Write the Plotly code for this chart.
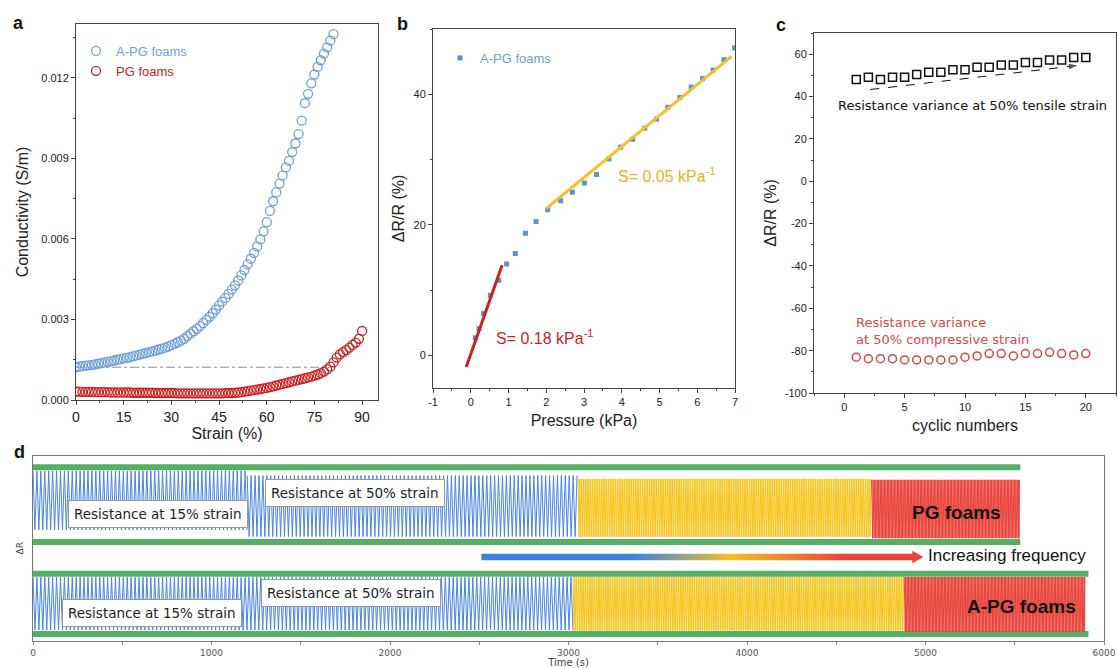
import numpy as np
import plotly.graph_objects as go

W, H = 1118, 668

# ---------------- Panel a: conductivity vs strain ----------------
strain_apg = list(range(0, 82))
cond_apg = [0.00122, 0.00124, 0.00126, 0.00128, 0.00129, 0.00131, 0.00133, 0.00135, 0.00137, 0.00140,
            0.00142, 0.00145, 0.00147, 0.00150, 0.00152, 0.00155, 0.00157, 0.00160, 0.00163, 0.00166,
            0.00169, 0.00172, 0.00175, 0.00178, 0.00181, 0.00184, 0.00188, 0.00191, 0.00195, 0.00199,
            0.00204, 0.00209, 0.00215, 0.00221, 0.00228, 0.00238, 0.00247, 0.00256, 0.00265, 0.00275,
            0.00286, 0.00298, 0.00310, 0.00323, 0.00337, 0.00352, 0.00366, 0.00380, 0.00395, 0.00411,
            0.00427, 0.00445, 0.00464, 0.00484, 0.00505, 0.00526, 0.00548, 0.00572, 0.00598, 0.00628,
            0.00662, 0.00704, 0.00740, 0.00773, 0.00806, 0.00836, 0.00866, 0.00890, 0.00923, 0.00955,
            0.00990, 0.01040, 0.01105, 0.01140, 0.01179, 0.01212, 0.01240, 0.01265, 0.01290, 0.01313,
            0.01338, 0.01362]
strain_pg = list(range(0, 91))
cond_pg = [0.00031, 0.00031, 0.00030, 0.00030, 0.00030, 0.00030, 0.00029, 0.00029, 0.00029, 0.00029,
           0.00029, 0.00028, 0.00028, 0.00028, 0.00028, 0.00028, 0.00028, 0.00028, 0.00027, 0.00027,
           0.00027, 0.00027, 0.00027, 0.00027, 0.00027, 0.00026, 0.00026, 0.00026, 0.00026, 0.00026,
           0.00026, 0.00026, 0.00025, 0.00025, 0.00025, 0.00025, 0.00025, 0.00025, 0.00025, 0.00025,
           0.00025, 0.00025, 0.00025, 0.00025, 0.00025, 0.00025, 0.00025, 0.00026, 0.00026, 0.00026,
           0.00027, 0.00028, 0.00029, 0.00031, 0.00033, 0.00035, 0.00037, 0.00039, 0.00041, 0.00043,
           0.00045, 0.00048, 0.00051, 0.00054, 0.00057, 0.00060, 0.00063, 0.00066, 0.00069, 0.00072,
           0.00075, 0.00078, 0.00081, 0.00084, 0.00087, 0.00091, 0.00095, 0.00100, 0.00106, 0.00114,
           0.00124, 0.00140, 0.00158, 0.00170, 0.00178, 0.00186, 0.00195, 0.00205, 0.00214, 0.00228,
           0.00257]
ref_strain = [0, 80]
ref_cond = [0.00122, 0.00122]
a_xticks = [0, 15, 30, 45, 60, 75, 90]
a_yticks = [0.0, 0.003, 0.006, 0.009, 0.012]

# ---------------- Panel b: dR/R vs pressure ----------------
pressure = [0.12, 0.22, 0.34, 0.52, 0.74, 0.95, 1.18, 1.45, 1.73, 2.04, 2.38, 2.69, 3.01,
            3.33, 3.66, 3.97, 4.29, 4.61, 4.92, 5.22, 5.54, 5.84, 6.14, 6.42, 6.71, 6.99]
dr_pressure = [2.7, 4.1, 6.4, 9.2, 11.5, 14.0, 15.6, 18.7, 20.5, 22.3, 23.7, 25.0, 26.4,
               27.7, 30.1, 31.9, 33.1, 34.8, 36.2, 38.0, 39.5, 41.1, 42.4, 43.7, 45.3, 47.1]
fit_low_x = [-0.12, 0.83]
fit_low_y = [-1.8, 13.8]
fit_high_x = [2.0, 6.91]
fit_high_y = [22.5, 45.8]
b_xticks = [-1, 0, 1, 2, 3, 4, 5, 6, 7]
b_xlabels = ["-1", "0", "1", "2", "3", "4", "5", "6", "7"]
b_yticks = [0, 20, 40]

# ---------------- Panel c: cyclic stability ----------------
cycles = list(range(1, 21))
tensile = [48.0, 49.1, 48.0, 49.1, 49.1, 50.4, 51.5, 51.5, 52.7, 52.7,
           53.8, 53.8, 54.9, 54.9, 56.1, 56.1, 57.2, 57.2, 58.4, 58.4]
compressive = [-83.1, -83.8, -83.8, -83.8, -84.4, -84.4, -84.4, -84.4, -84.4, -83.1,
               -82.5, -81.4, -81.4, -82.5, -81.4, -81.4, -80.8, -81.4, -82.0, -81.4]
trend_x = [2.15, 19.3]
trend_y = [43.3, 54.6]
c_xticks = [0, 5, 10, 15, 20]
c_yticks = [-100, -80, -60, -40, -20, 0, 20, 40, 60]
c_ylabels = ["-100", "-80", "-60", "-40", "-20", "0", "20", "40", "60"]

# ---------------- Panel d: frequency response ----------------
seg_start = [0, 1200, 3054, 4698, 0, 3026, 4881]
seg_end = [1200, 3054, 4698, 5527, 3026, 4881, 5894]
seg_period = [22, 22, 10, 4, 22, 10, 4]
seg_low = [59.9, 56.3, 56.1, 55.4, 5.9, 5.6, 5.0]
seg_high = [91.7, 89.2, 87.4, 86.9, 34.4, 34.5, 34.5]
seg_color = ["#4a86dc", "#4a86dc", "#f5c41c", "#e8433a", "#4a86dc", "#f5c41c", "#e8433a"]
rail_level = [93.6, 53.4, 36.2, 3.8]
rail_end = [5531, 5531, 5913, 5913]
arrow_start, arrow_base, arrow_tip = 2512, 4926, 4988
arrow_level, arrow_half, head_half = 45.3, 1.8, 3.4
d_xticks = [0, 1000, 2000, 3000, 4000, 5000, 6000]

BLUE_A = "#6f9fd8"
RED_A = "#cc2020"
FONT = "Liberation Sans, Arial, sans-serif"
DV = "DejaVu Sans, Verdana, sans-serif"

fig = go.Figure()

# Panel a
fig.add_trace(go.Scatter(x=ref_strain, y=ref_cond, mode="lines", xaxis="x", yaxis="y",
                         line=dict(color="#8a8a8a", width=1, dash="dashdot"), showlegend=False,
                         hoverinfo="skip"))
fig.add_trace(go.Scatter(x=strain_apg, y=cond_apg, mode="markers", xaxis="x", yaxis="y",
                         name="<span style='color:%s'>A-PG foams</span>" % BLUE_A, legend="legend",
                         marker=dict(symbol="circle-open", size=9, color=BLUE_A, line=dict(width=1.3))))
fig.add_trace(go.Scatter(x=strain_pg, y=cond_pg, mode="markers", xaxis="x", yaxis="y",
                         name="<span style='color:%s'>PG foams</span>" % RED_A, legend="legend",
                         marker=dict(symbol="circle-open", size=9, color=RED_A, line=dict(width=1.3))))

# Panel b
fig.add_trace(go.Scatter(x=pressure, y=dr_pressure, mode="markers", xaxis="x2", yaxis="y2",
                         name="<span style='color:#6f9fd8'>A-PG foams</span>", legend="legend2",
                         marker=dict(symbol="square", size=5, color="#5b8fd6")))
fig.add_trace(go.Scatter(x=fit_low_x, y=fit_low_y, mode="lines", xaxis="x2", yaxis="y2",
                         line=dict(color="#cc1f1f", width=3), showlegend=False))
fig.add_trace(go.Scatter(x=fit_high_x, y=fit_high_y, mode="lines", xaxis="x2", yaxis="y2",
                         line=dict(color="#f2c12e", width=3), showlegend=False))

# Panel c
fig.add_trace(go.Scatter(x=cycles, y=tensile, mode="markers", xaxis="x3", yaxis="y3", showlegend=False,
                         marker=dict(symbol="square-open", size=8, color="#111111", line=dict(width=1.5))))
fig.add_trace(go.Scatter(x=cycles, y=compressive, mode="markers", xaxis="x3", yaxis="y3", showlegend=False,
                         marker=dict(symbol="circle-open", size=8, color="#d24a4a", line=dict(width=1.5))))
fig.add_trace(go.Scatter(x=trend_x, y=trend_y, mode="lines+markers", xaxis="x3", yaxis="y3", showlegend=False,
                         line=dict(color="#111111", width=1, dash="dash"),
                         marker=dict(symbol="arrow", angleref="previous", size=[0, 9], color="#111111",
                                     line=dict(width=0))))

# Panel d: rails
for lvl, end in zip(rail_level, rail_end):
    fig.add_trace(go.Scatter(x=[0, end], y=[lvl, lvl], mode="lines", xaxis="x4", yaxis="y4",
                             line=dict(color="#55b065", width=6), showlegend=False, hoverinfo="skip"))
# Panel d: cyclic signals
for s, e, p, lo, hi, col in zip(seg_start, seg_end, seg_period, seg_low, seg_high, seg_color):
    t = np.arange(s, e + 1e-9, p / 2.0)
    v = np.where(np.arange(len(t)) % 2 == 0, hi, lo)
    fig.add_trace(go.Scatter(x=t, y=v, mode="lines", xaxis="x4", yaxis="y4",
                             line=dict(color=col, width=1), showlegend=False, hoverinfo="skip"))
# Panel d: frequency arrow
ax_poly = [arrow_start, arrow_base, arrow_base, arrow_tip, arrow_base, arrow_base, arrow_start, arrow_start]
ay_poly = [arrow_level - arrow_half, arrow_level - arrow_half, arrow_level - head_half, arrow_level,
           arrow_level + head_half, arrow_level + arrow_half, arrow_level + arrow_half, arrow_level - arrow_half]
fig.add_trace(go.Scatter(x=ax_poly, y=ay_poly, mode="lines", fill="toself", xaxis="x4", yaxis="y4",
                         line=dict(width=0, color="rgba(0,0,0,0)"), showlegend=False, hoverinfo="skip",
                         fillgradient=dict(type="horizontal",
                                           colorscale=[[0, "#3b82e0"], [0.34, "#3b82e0"], [0.46, "#9aa08a"],
                                                       [0.56, "#f4c01e"], [0.68, "#f08a2c"], [0.82, "#e8453c"],
                                                       [1, "#e8453c"]])))

axis_base = dict(showline=True, linecolor="#444", linewidth=1, mirror=True, showgrid=False, zeroline=False,
                 ticks="outside", ticklen=4, tickcolor="#444", automargin=False,
                 tickfont=dict(family=FONT, size=11, color="#222"))


def px_x(p):
    return p / W


def px_y(p):
    return 1 - p / H


layout = dict(
    width=W, height=H, margin=dict(l=0, r=0, t=0, b=0),
    paper_bgcolor="white", plot_bgcolor="white",
    font=dict(family=FONT, color="#222"),
    xaxis=dict(axis_base, domain=[px_x(76), px_x(378)], range=[0, 95], anchor="y",
               tickvals=a_xticks, tickfont=dict(family=FONT, size=14, color="#222"),
               minor=dict(dtick=7.5, tick0=0, ticks="outside", ticklen=2, tickcolor="#444"),
               title=dict(text="Strain (%)", font=dict(family=FONT, size=16), standoff=4)),
    yaxis=dict(axis_base, domain=[px_y(400), px_y(24)], range=[0, 0.014], anchor="x",
               tickvals=a_yticks, tickformat=".3f",
               minor=dict(dtick=0.0015, tick0=0, ticks="outside", ticklen=2, tickcolor="#444"),
               title=dict(text="Conductivity (S/m)", font=dict(family=FONT, size=16), standoff=8)),
    xaxis2=dict(axis_base, domain=[px_x(433), px_x(735)], range=[-1, 7], anchor="y2",
                tickvals=b_xticks, ticktext=b_xlabels,
                minor=dict(dtick=0.5, tick0=0, ticks="outside", ticklen=2, tickcolor="#444"),
                title=dict(text="Pressure (kPa)", font=dict(family=FONT, size=16), standoff=7)),
    yaxis2=dict(axis_base, domain=[px_y(388), px_y(29)], range=[-5, 50], anchor="x2",
                tickvals=b_yticks, minor=dict(dtick=10, tick0=0, ticks="outside", ticklen=2, tickcolor="#444"),
                title=dict(text="ΔR/R (%)", font=dict(family=FONT, size=16), standoff=4)),
    xaxis3=dict(axis_base, domain=[px_x(814), px_x(1116)], range=[-2.5, 22.5], anchor="y3",
                tickvals=c_xticks, minor=dict(dtick=2.5, tick0=0, ticks="outside", ticklen=2, tickcolor="#444"),
                title=dict(text="cyclic numbers", font=dict(family=FONT, size=16), standoff=7)),
    yaxis3=dict(axis_base, domain=[px_y(393), px_y(33)], range=[-100, 70], anchor="x3",
                tickvals=c_yticks, ticktext=c_ylabels,
                minor=dict(dtick=10, tick0=0, ticks="outside", ticklen=2, tickcolor="#444"),
                title=dict(text="ΔR/R (%)", font=dict(family=FONT, size=16), standoff=4)),
    xaxis4=dict(showline=True, linecolor="#777", linewidth=1, mirror=True, showgrid=False, zeroline=False,
                automargin=False, domain=[px_x(33), px_x(1104)], range=[0, 6000], anchor="y4",
                tickvals=d_xticks, ticks="outside", ticklen=3, tickcolor="#888",
                ticklabeloverflow="allow",
                minor=dict(dtick=500, tick0=0, ticks="outside", ticklen=3, tickcolor="#888"),
                tickfont=dict(family=DV, size=9, color="#555"),
                title=dict(text="Time (s)", font=dict(family=DV, size=10, color="#444"), standoff=2)),
    yaxis4=dict(showline=True, linecolor="#777", linewidth=1, mirror=True, showgrid=False, zeroline=False,
                automargin=False, domain=[px_y(641), px_y(455.5)], range=[0, 100], anchor="x4",
                showticklabels=False, ticks="",
                title=dict(text="ΔR", font=dict(family=DV, size=9, color="#444"), standoff=6)),
    legend=dict(x=px_x(76), y=px_y(36), xanchor="left", yanchor="top", bgcolor="rgba(0,0,0,0)",
                font=dict(family=FONT, size=13), tracegroupgap=0),
    legend2=dict(x=px_x(440), y=px_y(43), xanchor="left", yanchor="top", bgcolor="rgba(0,0,0,0)",
                 font=dict(family=FONT, size=13)),
)
fig.update_layout(**layout)

ann = []
# panel letters
for txt, x, y in [("a", 18, 23), ("b", 402, 24), ("c", 781, 25), ("d", 19, 452)]:
    ann.append(dict(text="<b>%s</b>" % txt, x=px_x(x), y=px_y(y), xref="paper", yref="paper",
                    showarrow=False, font=dict(family=FONT, size=18, color="#111"),
                    xanchor="center", yanchor="middle"))
# panel b labels
ann.append(dict(text="S= 0.18 kPa<sup>-1</sup>", x=0.61, y=2.8, xref="x2", yref="y2", showarrow=False,
                xanchor="left", yanchor="middle", font=dict(family=FONT, size=16, color="#cc1f1f")))
ann.append(dict(text="S= 0.05 kPa<sup>-1</sup>", x=3.84, y=27.6, xref="x2", yref="y2", showarrow=False,
                xanchor="left", yanchor="middle", font=dict(family=FONT, size=16, color="#e6b31e")))
# panel c labels
ann.append(dict(text="Resistance variance at 50% tensile strain", x=-0.66, y=35.8, xref="x3", yref="y3",
                showarrow=False, xanchor="left", yanchor="middle", font=dict(family=DV, size=13, color="#111")))
ann.append(dict(text="Resistance variance<br>at 50% compressive strain", x=0.8, y=-70.8, xref="x3", yref="y3",
                showarrow=False, xanchor="left", yanchor="middle", align="left",
                font=dict(family=DV, size=13, color="#d24a4a")))
# panel d labels
for txt, t, v in [("Resistance at 15% strain", 702, 68.5), ("Resistance at 50% strain", 1803, 79.6),
                  ("Resistance at 15% strain", 669, 15.1), ("Resistance at 50% strain", 1780, 25.9)]:
    ann.append(dict(text=txt, x=t, y=v, xref="x4", yref="y4", showarrow=False, bgcolor="white",
                    bordercolor="#999", borderwidth=1, borderpad=5,
                    font=dict(family=DV, size=13.5, color="#222")))
ann.append(dict(text="<b>PG foams</b>", x=5174, y=69.5, xref="x4", yref="y4", showarrow=False,
                font=dict(family=FONT, size=19, color="#111")))
ann.append(dict(text="<b>A-PG foams</b>", x=5535, y=18.5, xref="x4", yref="y4", showarrow=False,
                font=dict(family=FONT, size=19, color="#111")))
ann.append(dict(text="Increasing frequency", x=5004, y=45.9, xref="x4", yref="y4", showarrow=False,
                xanchor="left", yanchor="middle", font=dict(family=FONT, size=17, color="#111")))
fig.update_layout(annotations=ann)

fig.write_html("out.html", config={"displayModeBar": False},
               post_script="document.body.style.margin='0';")
